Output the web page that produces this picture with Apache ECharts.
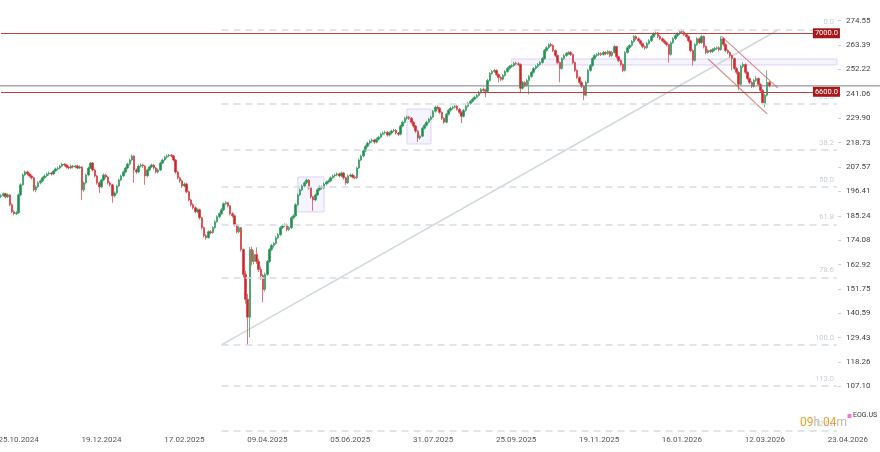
<!DOCTYPE html>
<html>
<head>
<meta charset="utf-8">
<script src="https://cdn.jsdelivr.net/npm/echarts@6/dist/echarts.min.js"></script>
<style>
html,body{margin:0;padding:0;background:#fff;}
#c{width:880px;height:452px;}
</style>
</head>
<body>
<div id="c"></div>
<script>
// ---- data ----
const symbol = 'EOG.US';
const slotCount = 384;
const tickIndex = [8, 46, 84, 122, 160, 198, 236, 274, 312, 350];
const tickLabels = ['25.10.2024','19.12.2024','17.02.2025','09.04.2025','05.06.2025','31.07.2025','25.09.2025','19.11.2025','16.01.2026','12.03.2026'];
const nextDateLabel = '23.04.2026';
const priceTicks = [274.55,263.39,252.22,241.06,229.90,218.73,207.57,196.41,185.24,174.08,162.92,151.75,140.59,129.43,118.26,107.10];

const opens = [
194.0,194.4,195.3,193.9,194.8,190.3,187.1,186.2,186.6,194.8,
199.4,203.9,205.3,204.4,203.5,202.6,197.1,198.5,200.3,201.2,
202.6,203.5,204.4,204.8,204.4,205.7,206.7,207.1,208.0,208.9,
208.5,207.6,207.1,208.0,207.6,208.0,207.1,207.6,197.1,200.3,
203.9,207.1,209.4,206.2,203.5,200.3,198.5,201.6,203.9,203.0,
200.3,199.4,194.4,195.7,198.9,201.6,203.5,205.3,207.1,208.9,
210.8,212.6,206.2,205.3,208.0,208.5,208.0,203.5,206.2,207.6,
208.5,207.1,205.3,206.2,209.4,210.8,212.1,212.6,213.0,212.6,
210.8,205.3,202.6,201.2,198.9,199.8,196.2,192.5,190.3,188.9,
187.1,188.0,184.3,179.8,176.1,175.2,177.9,177.5,179.8,182.5,
184.8,186.2,188.0,190.7,191.2,189.8,186.2,185.2,181.1,177.9,
179.8,169.8,158.4,147.0,138.8,169.8,164.3,167.5,164.3,160.6,
157.9,151.5,158.4,164.3,169.8,171.6,172.5,175.2,176.6,179.8,
180.7,181.1,178.9,179.8,184.3,185.2,190.3,194.8,197.1,198.9,
200.3,201.6,198.0,193.9,192.5,194.8,197.1,198.5,198.0,199.8,
200.7,201.2,202.6,203.5,203.9,204.4,203.5,204.8,202.6,200.3,
203.5,203.9,203.0,202.6,207.1,210.8,212.6,214.9,217.1,218.5,
219.4,219.9,219.0,220.3,221.2,222.6,223.1,223.5,222.2,223.1,
224.0,224.4,223.1,222.6,226.3,228.1,229.9,230.4,229.9,228.1,
226.3,224.0,220.8,221.7,225.3,226.7,228.1,229.4,230.4,233.1,
234.9,234.5,232.6,229.9,228.1,231.7,233.5,234.5,234.9,235.4,
234.0,232.6,230.8,233.5,235.4,236.7,237.6,238.6,239.5,240.4,
241.7,243.1,242.7,242.2,247.2,250.4,251.3,251.8,249.9,248.6,
247.7,249.5,251.3,252.7,253.6,254.0,255.0,254.8,254.5,243.6,
246.3,244.9,247.2,249.0,250.9,252.7,253.6,254.5,255.4,257.2,
260.9,262.2,263.6,263.2,260.9,258.6,255.4,252.7,257.2,258.6,
259.5,260.0,259.1,255.4,251.8,248.6,246.3,244.5,240.4,246.3,
251.8,254.0,257.2,258.6,259.1,259.5,259.1,260.0,259.5,260.4,
258.6,260.0,262.7,258.1,256.3,254.5,251.8,260.0,262.2,263.2,
265.0,267.3,266.3,265.4,264.1,262.7,262.2,264.1,265.4,267.3,
268.6,268.9,267.3,266.3,265.4,264.5,263.6,259.1,264.5,266.3,
267.7,268.6,269.5,269.3,268.2,267.3,265.4,260.9,256.3,263.6,
266.3,264.5,267.3,262.7,260.0,260.9,260.4,261.3,261.8,262.2,
261.3,266.3,263.6,260.9,260.0,258.6,257.2,252.7,250.9,245.4,
253.6,254.5,250.9,248.1,246.3,244.5,247.2,248.1,245.4,242.7,
236.5,240.4,246.3];

const closes = [
194.4,195.3,193.9,194.8,190.3,187.1,186.2,186.6,194.8,199.4,
203.9,205.3,204.4,203.5,202.6,197.1,198.5,200.3,201.2,202.6,
203.5,204.4,204.8,204.4,205.7,206.7,207.1,208.0,208.9,208.5,
207.6,207.1,208.0,207.6,208.0,207.1,207.6,197.1,200.3,203.9,
207.1,209.4,206.2,203.5,200.3,198.5,201.6,203.9,203.0,200.3,
199.4,194.4,195.7,198.9,201.6,203.5,205.3,207.1,208.9,210.8,
212.6,206.2,205.3,208.0,208.5,208.0,203.5,206.2,207.6,208.5,
207.1,205.3,206.2,209.4,210.8,212.1,212.6,213.0,212.6,210.8,
205.3,202.6,201.2,198.9,199.8,196.2,192.5,190.3,188.9,187.1,
188.0,184.3,179.8,176.1,175.2,177.9,177.5,179.8,182.5,184.8,
186.2,188.0,190.7,191.2,189.8,186.2,185.2,181.1,177.9,179.8,
169.8,158.4,147.0,138.8,169.8,164.3,167.5,164.3,160.6,157.9,
151.5,158.4,164.3,169.8,171.6,172.5,175.2,176.6,179.8,180.7,
181.1,178.9,179.8,184.3,185.2,190.3,194.8,197.1,198.9,200.3,
201.6,198.0,193.9,192.5,194.8,197.1,198.5,198.0,199.8,200.7,
201.2,202.6,203.5,203.9,204.4,203.5,204.8,202.6,200.3,203.5,
203.9,203.0,202.6,207.1,210.8,212.6,214.9,217.1,218.5,219.4,
219.9,219.0,220.3,221.2,222.6,223.1,223.5,222.2,223.1,224.0,
224.4,223.1,222.6,226.3,228.1,229.9,230.4,229.9,228.1,226.3,
224.0,220.8,221.7,225.3,226.7,228.1,229.4,230.4,233.1,234.9,
234.5,232.6,229.9,228.1,231.7,233.5,234.5,234.9,235.4,234.0,
232.6,230.8,233.5,235.4,236.7,237.6,238.6,239.5,240.4,241.7,
243.1,242.7,242.2,247.2,250.4,251.3,251.8,249.9,248.6,247.7,
249.5,251.3,252.7,253.6,254.0,255.0,254.8,254.5,243.6,246.3,
244.9,247.2,249.0,250.9,252.7,253.6,254.5,255.4,257.2,260.9,
262.2,263.6,263.2,260.9,258.6,255.4,252.7,257.2,258.6,259.5,
260.0,259.1,255.4,251.8,248.6,246.3,244.5,240.4,246.3,251.8,
254.0,257.2,258.6,259.1,259.5,259.1,260.0,259.5,260.4,258.6,
260.0,262.7,258.1,256.3,254.5,251.8,260.0,262.2,263.2,265.0,
267.3,266.3,265.4,264.1,262.7,262.2,264.1,265.4,267.3,268.6,
268.9,267.3,266.3,265.4,264.5,263.6,259.1,264.5,266.3,267.7,
268.6,269.5,269.3,268.2,267.3,265.4,260.9,256.3,263.6,266.3,
264.5,267.3,262.7,260.0,260.9,260.4,261.3,261.8,262.2,261.3,
266.3,263.6,260.9,260.0,258.6,257.2,252.7,250.9,245.4,253.6,
254.5,250.9,248.1,246.3,244.5,247.2,248.1,245.4,242.7,237.0,
240.4,246.3,244.7];

const lows = [
193.3,193.9,193.2,193.4,189.6,186.4,185.4,185.5,186.1,194.2,
199.0,203.3,203.7,202.8,201.9,196.4,196.0,197.9,199.6,200.5,
202.0,202.9,203.6,203.7,203.9,205.1,206.0,206.5,207.4,207.8,
206.9,206.4,206.6,206.9,206.9,206.5,206.6,192.5,196.2,199.6,
203.3,206.6,205.5,202.8,199.5,195.7,197.8,201.0,202.2,199.6,
198.6,191.2,193.6,195.0,198.3,201.0,202.9,204.7,206.5,208.3,
210.2,200.3,204.4,204.8,207.3,207.2,199.4,202.9,205.6,207.0,
206.4,204.6,204.7,205.7,208.8,210.2,211.4,212.0,211.9,210.1,
204.5,201.9,200.4,198.0,198.2,195.5,191.8,189.5,188.1,186.3,
186.4,183.5,179.0,175.3,174.3,174.8,176.8,177.0,179.2,182.0,
184.2,185.6,187.4,190.0,189.1,185.4,184.4,180.3,177.1,177.2,
168.9,157.0,145.0,126.1,129.7,162.5,163.0,163.2,159.5,156.0,
145.6,150.6,157.8,163.6,169.0,170.6,171.9,174.5,176.0,179.1,
180.0,178.1,178.2,179.2,183.6,184.7,189.8,194.2,196.5,198.3,
199.7,197.2,193.1,187.5,191.9,194.2,196.5,197.3,197.4,199.1,
200.0,200.6,202.0,202.8,203.3,202.8,203.0,201.8,199.4,199.8,
202.8,202.3,201.9,202.1,206.6,210.2,212.0,214.3,216.5,217.8,
218.7,218.2,218.4,219.7,220.6,222.0,222.4,221.5,221.6,222.5,
223.4,222.4,221.8,222.1,225.7,227.5,229.2,229.1,227.3,225.5,
223.2,219.0,220.0,221.2,224.7,226.1,227.5,228.8,229.9,232.5,
233.8,231.8,229.1,227.3,227.6,231.1,232.9,233.8,234.2,233.3,
231.8,227.6,230.2,232.9,234.8,236.1,237.0,238.0,238.9,239.8,
241.1,242.0,239.5,241.7,246.6,249.8,250.6,249.1,246.3,246.9,
247.1,248.9,250.7,252.0,252.9,253.4,254.1,253.8,241.7,243.0,
244.1,244.3,240.8,248.4,250.3,252.0,252.9,253.9,254.8,256.6,
260.3,261.6,262.5,260.1,257.8,254.6,246.3,252.1,256.6,258.0,
258.8,258.4,254.6,251.0,247.8,245.5,243.7,238.1,239.9,245.8,
251.2,253.4,256.6,257.9,258.4,258.4,258.5,258.8,258.9,257.8,
258.0,259.5,257.3,255.5,253.7,251.0,251.3,259.5,261.6,262.6,
264.4,265.6,264.7,263.3,261.9,261.2,261.6,263.5,264.8,266.7,
267.9,266.6,265.6,264.7,263.8,262.8,255.4,258.6,263.9,265.7,
267.1,268.0,268.6,267.5,266.5,264.6,260.1,254.0,255.8,263.0,
263.8,264.0,261.9,259.2,259.3,259.6,259.8,260.6,261.1,260.5,
260.8,262.8,260.1,259.2,257.8,251.8,251.9,250.0,242.7,244.9,
252.9,250.1,247.3,245.5,243.7,243.9,246.5,244.6,241.9,236.2,
234.9,239.8,244.0];

const highs = [
195.2,196.0,195.8,195.5,195.2,190.9,187.8,187.4,195.4,200.1,
204.6,206.0,205.9,205.0,204.1,203.0,199.2,201.0,201.9,203.2,
204.2,205.0,205.5,205.4,206.3,207.3,207.8,208.6,209.5,209.3,
209.0,208.2,208.7,208.5,208.6,208.6,208.3,207.9,201.0,204.5,
207.8,209.9,209.8,206.7,204.0,201.0,202.2,204.6,204.5,203.5,
201.0,199.9,196.4,199.5,202.3,204.1,206.0,207.7,209.5,211.4,
213.3,212.9,207.0,208.7,209.2,209.1,208.4,206.9,208.2,209.1,
209.0,207.6,206.9,210.0,211.4,212.7,213.3,213.6,213.5,213.1,
211.2,205.8,203.2,201.8,200.5,200.3,196.7,193.0,191.0,189.5,
188.7,188.5,184.8,180.3,176.9,178.6,178.7,180.5,183.2,185.5,
186.9,188.7,191.3,191.9,191.7,190.2,186.9,185.7,181.6,180.6,
180.1,170.3,160.0,149.5,171.0,171.2,169.5,170.8,165.5,162.0,
158.6,159.2,165.0,170.5,172.4,173.2,175.9,177.3,180.5,181.4,
181.8,181.6,180.5,185.0,185.9,191.0,195.5,197.8,199.6,201.0,
202.3,202.0,198.5,194.4,195.5,197.8,199.2,199.1,200.5,201.4,
201.9,203.3,204.2,204.6,205.1,205.0,205.5,205.2,203.0,204.2,
204.6,204.5,203.7,207.8,211.5,213.3,215.6,217.8,219.2,220.1,
220.6,220.5,221.0,221.9,223.3,223.8,224.2,224.0,223.8,224.7,
225.1,224.9,223.6,227.0,228.8,230.6,231.1,231.0,230.4,228.6,
226.8,224.5,222.4,226.0,227.4,228.8,230.1,231.1,233.8,235.6,
235.7,235.0,233.1,230.4,232.4,234.2,235.2,235.6,236.1,235.9,
234.5,233.1,234.2,236.1,237.4,238.3,239.3,240.2,241.1,242.4,
243.8,243.9,243.4,247.9,251.1,252.0,252.5,252.3,250.4,249.2,
250.2,252.0,253.4,254.3,254.7,255.7,255.8,255.6,255.0,247.0,
246.9,247.9,249.7,251.6,253.4,254.3,255.2,256.1,257.9,261.6,
262.9,264.3,264.4,263.7,261.4,259.1,255.9,257.9,259.3,260.2,
260.7,260.6,259.6,255.9,252.3,249.1,246.9,245.0,247.0,252.5,
254.7,257.9,259.3,259.8,260.2,260.1,260.7,260.6,261.1,260.9,
260.7,263.4,263.1,258.6,256.8,255.0,260.7,262.9,263.9,265.7,
268.0,267.9,266.9,265.9,264.6,263.3,264.8,266.1,268.0,269.3,
269.6,269.4,267.9,266.9,266.0,265.1,264.0,265.2,267.0,268.4,
269.3,269.9,270.6,269.8,268.8,267.8,265.9,261.4,264.3,267.0,
266.9,268.2,267.8,263.2,261.6,261.5,262.0,262.5,262.9,262.8,
267.4,266.8,264.1,261.5,260.5,259.1,257.7,253.3,251.4,254.3,
255.5,255.0,251.4,248.6,246.8,247.9,249.3,248.6,245.9,243.2,
241.1,251.8,246.9];

// drawing annotations (data coordinates: [slot index, price])
const fibStartIndex = 101;
const fibHigh = 270.6;
const fibLow = 126.1;
const fibLevels = [0, 23.6, 38.2, 50.0, 61.8, 78.6, 100.0, 113.0, 127.2];
const trendLine = [[101, 126.1], [356, 270.3]];
const channelUpper = [[330, 267.5], [356, 243.7]];
const channelLower = [[324, 257.0], [351, 231.9]];
const levelLines = [{ value: 268.8, label: '7000.0' }, { value: 242.0, label: '6600.0' }];
const levelEndIndex = 372;
const zones = [
  [[234, 257.0], [383, 254.3]],
  [[136, 203.0], [147.5, 187.0]],
  [[185.6, 234.1], [197, 218.1]]
];

// ---- chart ----
const chart = echarts.init(document.getElementById('c'), null, { renderer: 'canvas' });
const categories = Array.from({ length: slotCount }, (_, i) => 's' + i);
const labelMap = {};
tickIndex.forEach((idx, k) => { labelMap[idx] = tickLabels[k]; });
const candles = opens.map((o, i) => [o, closes[i], lows[i], highs[i]]);
const lastIdx = slotCount - 1;

const fibData = fibLevels.map(l => {
  const v = fibHigh - (fibHigh - fibLow) * l / 100;
  return [{ name: l.toFixed(1), coord: [fibStartIndex, v] }, { coord: [lastIdx, v] }];
});

const levelData = levelLines.map(d => [
  { name: d.label, coord: [0, d.value] },
  { coord: [levelEndIndex, d.value] }
]);

const axisFont = 8;

const option = {
  animation: false,
  backgroundColor: '#ffffff',
  textStyle: { fontFamily: 'Roboto, sans-serif' },
  grid: { left: 0, right: 42, top: 0, bottom: 20, containLabel: false, outerBoundsMode: 'none' },
  xAxis: {
    type: 'category',
    data: categories,
    boundaryGap: true,
    axisLine: { show: false },
    axisTick: { show: false },
    splitLine: { show: false },
    axisLabel: {
      interval: (idx) => labelMap[idx] !== undefined,
      formatter: (val, idx) => labelMap[idx] || '',
      color: '#555',
      fontSize: axisFont,
      fontFamily: 'Roboto',
      margin: 4,
      hideOverlap: false
    }
  },
  yAxis: {
    type: 'value',
    position: 'right',
    min: 86.23,
    max: 284.03,
    scale: true,
    axisLine: { show: false },
    splitLine: { show: false },
    axisTick: { show: true, length: 3, lineStyle: { color: '#d0d0d0' }, customValues: priceTicks },
    axisLabel: {
      customValues: priceTicks,
      formatter: v => Number(v).toFixed(2),
      color: '#444',
      fontSize: axisFont,
      fontFamily: 'Roboto',
      margin: 8
    }
  },
  series: [
    {
      name: 'trend',
      type: 'line',
      data: trendLine,
      showSymbol: false,
      symbol: 'none',
      silent: true,
      z: 1,
      lineStyle: { color: '#cfd8dc', width: 1.5 },
      markLine: {
        silent: true,
        symbol: ['none', 'none'],
        animation: false,
        lineStyle: { color: '#d6dde2', width: 1.5, type: [7, 5] },
        label: {
          show: true,
          position: 'insideEndTop',
          formatter: '{b}',
          color: '#c6ced5',
          fontSize: 7.5,
          distance: [3, 3]
        },
        data: fibData
      }
    },
    {
      name: 'channelUpper',
      type: 'line',
      data: channelUpper,
      symbol: 'none',
      silent: true,
      z: 2,
      lineStyle: { color: '#d98a8a', width: 1.2 }
    },
    {
      name: 'channelLower',
      type: 'line',
      data: channelLower,
      symbol: 'none',
      silent: true,
      z: 2,
      lineStyle: { color: '#d98a8a', width: 1.2 }
    },
    {
      name: symbol,
      type: 'candlestick',
      data: candles,
      barWidth: 2,
      z: 3,
      itemStyle: {
        color: '#1f8f4f',
        color0: '#d02428',
        borderColor: '#2f9a5e',
        borderColor0: '#d63a3d',
        borderWidth: 0.7
      },
      markArea: {
        silent: true,
        itemStyle: { color: 'rgba(236,230,252,0.45)', borderColor: '#dcd3f3', borderWidth: 1 },
        data: zones.map(z => [{ coord: z[0] }, { coord: z[1] }])
      },
      markLine: {
        silent: true,
        symbol: ['none', 'none'],
        animation: false,
        lineStyle: { color: '#b94140', width: 1.2, type: 'solid' },
        label: {
          show: true,
          position: 'end',
          distance: 0,
          formatter: '{b}',
          color: '#ffffff',
          backgroundColor: '#a8191c',
          fontSize: 7.5,
          padding: [1, 2, 1, 2]
        },
        data: levelData
      }
    }
  ]
};
chart.setOption(option);

// current-price line across plot and price axis, placed via the axis scale
const lastClose = closes[closes.length - 1];
const py = chart.convertToPixel({ yAxisIndex: 0 }, lastClose);
const dateX = chart.convertToPixel({ xAxisIndex: 0 }, lastIdx);
chart.setOption({
  graphic: [
    { type: 'line', silent: true, z: 10, shape: { x1: 0, y1: py, x2: 880, y2: py }, style: { stroke: '#7d7d7d', lineWidth: 1 } },
    { type: 'text', silent: true, left: 800, top: 417,
      style: { text: '{o|09}{g|h }{o|04}{g|m}', rich: {
        o: { fill: '#f39c1f', fontSize: 12, fontFamily: 'Roboto' },
        g: { fill: '#b8b8b8', fontSize: 12, fontFamily: 'Roboto' } } } },
    { type: 'rect', silent: true, shape: { x: 847.5, y: 414, width: 4, height: 4 }, style: { fill: '#e77ae7' } },
    { type: 'text', silent: true, left: 853, top: 412, style: { text: symbol, fill: '#333', fontSize: 7, fontFamily: 'Roboto' } },
    { type: 'text', silent: true, x: dateX + 11, y: 440, style: { text: nextDateLabel, fill: '#555', fontSize: axisFont, fontFamily: 'Roboto', align: 'center', verticalAlign: 'middle' } }
  ]
});
</script>
</body>
</html>
